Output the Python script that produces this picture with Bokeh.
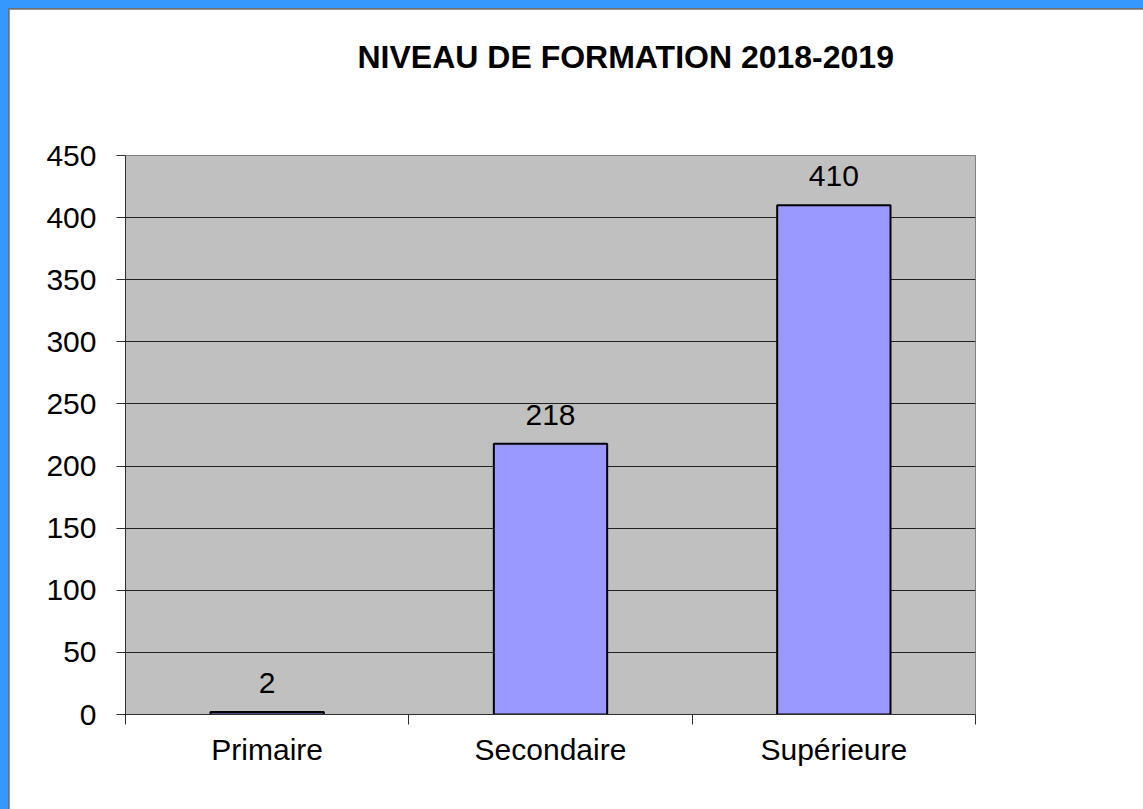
import numpy as np
from bokeh.plotting import figure
from bokeh.models import FixedTicker, Range1d, ColumnDataSource, Title
from bokeh.core.properties import value
from bokeh.embed import file_html
from bokeh.resources import INLINE

categories = ["Primaire", "Secondaire", "Supérieure"]
counts = [2, 218, 410]
y_ticks = [0, 50, 100, 150, 200, 250, 300, 350, 400, 450]
title_text = "NIVEAU DE FORMATION 2018-2019"

FONT = "Liberation Sans"

xs = np.arange(len(categories)) + 0.5
src = ColumnDataSource(dict(x=xs, y=counts, lab=[str(v) for v in counts]))

p = figure(width=1134, height=800, output_backend="svg", toolbar_location=None,
           x_range=Range1d(0, len(categories)), y_range=Range1d(0, 450),
           min_border_left=116, min_border_right=177, min_border_top=146, min_border_bottom=104,
           title=title_text,
           styles={"box-sizing": "content-box", "overflow": "hidden",
                   "border-left": "8px solid #3399FF", "border-top": "8px solid #3399FF",
                   "padding-left": "1px", "padding-top": "1px",
                   "background-color": "#707070"})

# spacer between the frame and the title
p.add_layout(Title(text=" ", text_font_size="1px", standoff=78), "above")

p.background_fill_color = "#C0C0C0"
p.border_fill_color = "white"
p.outline_line_color = "#808080"
p.outline_line_width = 1

p.title.text_font = FONT
p.title.text_font_size = "32px"
p.title.text_font_style = "bold"
p.title.text_color = "black"
p.title.align = "left"
p.title.offset = 232
p.title.vertical_align = "bottom"
p.title.standoff = 0

p.vbar(x="x", top="y", width=0.4, bottom=0, source=src,
       fill_color="#9999FF", line_color="black", line_width=2)

p.text(x="x", y="y", text="lab", source=src, text_align="center", text_baseline="alphabetic",
       y_offset=-29, text_font=value(FONT), text_font_size="30px", text_color="black")

p.xgrid.grid_line_color = None
p.ygrid.ticker = FixedTicker(ticks=y_ticks)
p.ygrid.grid_line_color = "#202020"
p.ygrid.grid_line_width = 1

ya = p.yaxis[0]
ya.ticker = FixedTicker(ticks=y_ticks)
ya.axis_line_color = "#303030"
ya.major_tick_line_color = "#303030"
ya.major_tick_out = 9
ya.major_tick_in = 0
ya.minor_tick_line_color = None
ya.major_label_standoff = 20
ya.major_label_text_font = FONT
ya.major_label_text_font_size = "30px"
ya.major_label_text_color = "black"

xa = p.xaxis[0]
xa.ticker = FixedTicker(ticks=list(xs), minor_ticks=list(range(len(categories) + 1)))
xa.major_label_overrides = {float(x): c for x, c in zip(xs, categories)}
xa.axis_line_color = "#303030"
xa.major_tick_line_color = None
xa.major_tick_out = 0
xa.major_tick_in = 0
xa.minor_tick_line_color = "#303030"
xa.minor_tick_out = 10
xa.minor_tick_in = 0
xa.major_label_standoff = 8
xa.major_label_text_font = FONT
xa.major_label_text_font_size = "30px"
xa.major_label_text_color = "black"

html = file_html(p, INLINE)
open("out.html", "w").write(html)
